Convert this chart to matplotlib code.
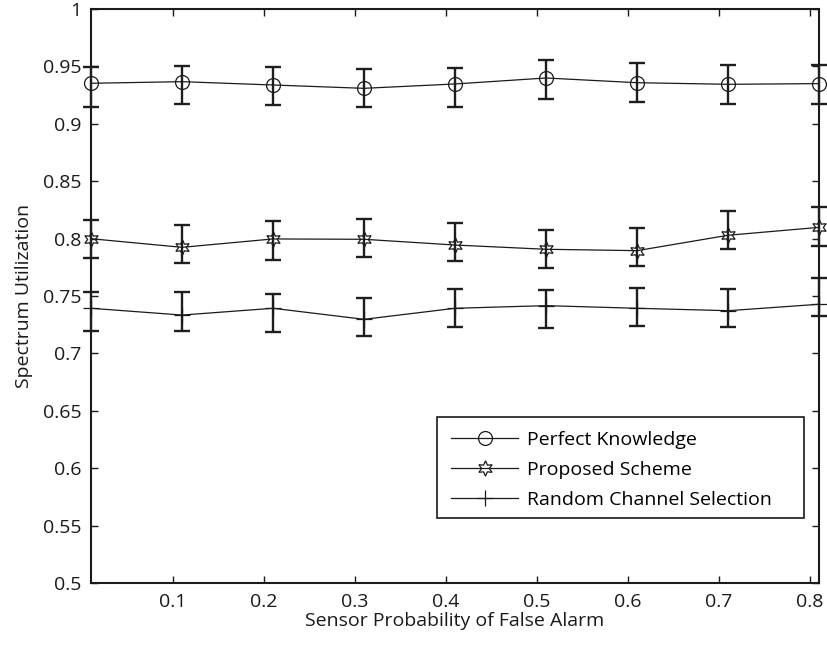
import matplotlib
matplotlib.use("Agg")
import matplotlib.pyplot as plt
from matplotlib.patches import Rectangle
import numpy as np

plt.rcParams['font.family'] = ['Open Sans', 'DejaVu Sans']

# Data
pfa = [0.01, 0.11, 0.21, 0.31, 0.41, 0.51, 0.61, 0.71, 0.81]

perfect_mean = [0.9353, 0.9367, 0.9338, 0.9309, 0.9347, 0.9399, 0.9358, 0.9344, 0.9350]
perfect_low  = [0.9146, 0.9172, 0.9164, 0.9146, 0.9146, 0.9219, 0.9193, 0.9175, 0.9175]
perfect_high = [0.9495, 0.9506, 0.9497, 0.9477, 0.9483, 0.9553, 0.9527, 0.9510, 0.9510]

proposed_mean = [0.7999, 0.7924, 0.7997, 0.7994, 0.7944, 0.7907, 0.7895, 0.8029, 0.8098]
proposed_low  = [0.7831, 0.7785, 0.7816, 0.7840, 0.7802, 0.7744, 0.7761, 0.7909, 0.7938]
proposed_high = [0.8162, 0.8118, 0.8153, 0.8171, 0.8136, 0.8078, 0.8092, 0.8243, 0.8272]

random_mean = [0.7393, 0.7334, 0.7393, 0.7297, 0.7393, 0.7416, 0.7393, 0.7372, 0.7428]
random_low  = [0.7198, 0.7198, 0.7186, 0.7152, 0.7230, 0.7224, 0.7239, 0.7233, 0.7328]
random_high = [0.7532, 0.7532, 0.7520, 0.7485, 0.7561, 0.7555, 0.7570, 0.7564, 0.7660]

labels = ["Perfect Knowledge", "Proposed Scheme", "Random Channel Selection"]
xticks = [0.1, 0.2, 0.3, 0.4, 0.5, 0.6, 0.7, 0.8]
yticks = [0.5, 0.55, 0.6, 0.65, 0.7, 0.75, 0.8, 0.85, 0.9, 0.95, 1.0]

W, H = 828, 650
fig = plt.figure(figsize=(W / 100, H / 100), dpi=100)
ax = fig.add_axes([91 / W, 1 - 583 / H, (819 - 91) / W, (583 - 9) / H])

ink = '#1a1a1a'

def draw(mean, low, high, marker, ms, label):
    m = np.array(mean); lo = np.array(low); hi = np.array(high)
    err = [m - lo, hi - m]
    ax.errorbar(pfa, m, yerr=err, fmt='none', ecolor='#1e1e1e', elinewidth=1.7,
                capsize=5.5, capthick=1.7, clip_on=False, zorder=3)
    line, = ax.plot(pfa, m, color=ink, linewidth=0.9, marker=marker,
                    markersize=ms, markerfacecolor='none', markeredgecolor=ink,
                    markeredgewidth=0.9, label=label, clip_on=False, zorder=4)
    return line

draw(perfect_mean, perfect_low, perfect_high, 'o', 10, labels[0])
draw(proposed_mean, proposed_low, proposed_high, (6, 1, 0), 11, labels[1])
draw(random_mean, random_low, random_high, '+', 12, labels[2])

ax.set_xlim(0.01, 0.81)
ax.set_ylim(0.5, 1.0)
ax.set_xticks(xticks)
ax.set_xticklabels([f"{t:g}" for t in xticks])
ax.set_yticks(yticks)
ax.set_yticklabels([f"{t:g}" for t in yticks])

ax.tick_params(direction='in', length=5, width=1.0, top=True, right=True,
               labelsize=14, colors=ink, pad=7)
for s in ax.spines.values():
    s.set_linewidth(1.5)
    s.set_color(ink)

ax.set_xlabel("Sensor Probability of False Alarm", fontsize=14, color=ink, labelpad=1)
ax.set_ylabel("Spectrum Utilization", fontsize=14, color=ink, labelpad=7)

box = Rectangle((437 / W, 1 - 518 / H), (804 - 437) / W, (518 - 417) / H,
                transform=fig.transFigure, fill=True, facecolor='white',
                edgecolor=ink, linewidth=1.2, zorder=8, clip_on=False)
ax.add_patch(box)
leg = ax.legend(loc='center left', bbox_to_anchor=(451 / W, 1 - 470 / H),
                bbox_transform=fig.transFigure, borderaxespad=0, borderpad=0,
                fontsize=14, frameon=False, handlelength=3.45,
                labelspacing=0.63, handletextpad=0.46)
leg.set_zorder(10)

fig.savefig("out.png", dpi=100)
